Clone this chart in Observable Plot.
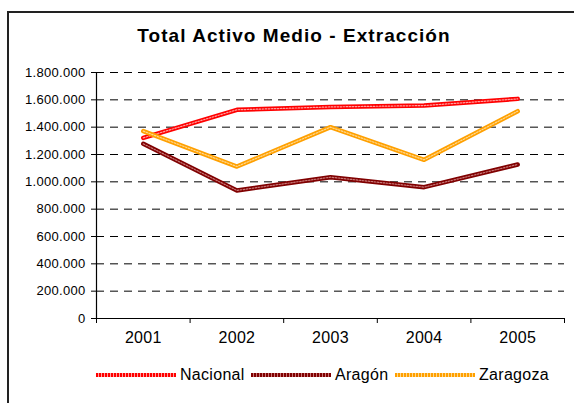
<!DOCTYPE html>
<html>
<head>
<meta charset="utf-8">
<script src="https://cdn.jsdelivr.net/npm/d3@7"></script>
<script src="https://cdn.jsdelivr.net/npm/@observablehq/plot@0.6"></script>
<style>
  html, body { margin: 0; padding: 0; background: #fff; width: 574px; height: 403px; overflow: hidden; }
  #wrap { position: relative; width: 574px; height: 403px; font-family: "Liberation Sans", Arial, sans-serif; }
  #frame { position: absolute; left: 7px; top: 11px; width: 620px; height: 500px; border: 2px solid #222; box-sizing: border-box; }
  #title { position: absolute; left: 0; width: 588px; top: 25px; text-align: center; font-weight: bold; font-size: 19px; letter-spacing: 1.05px; color: #000; }
  #chart { position: absolute; left: 0; top: 0; }
  #chart svg text { letter-spacing: 0.3px; }
  #legend { position: absolute; top: 365px; left: 0; height: 20px; font-size: 16px; color: #000; }
  .item { position: absolute; top: 0; display: flex; align-items: center; height: 20px; white-space: nowrap; letter-spacing: 0.3px; }
  .sw { width: 80px; height: 4px; margin-right: 4px; }
</style>
</head>
<body>
<div id="wrap">
  <div id="frame"></div>
  <div id="chart"></div>
  <div id="title">Total Activo Medio - Extracción</div>
  <div id="legend"></div>
</div>
<script>
const years = [2001, 2002, 2003, 2004, 2005];
const nacional = [1322000, 1527000, 1548000, 1558000, 1607000];
const aragon = [1278000, 937000, 1034000, 961000, 1127000];
const zaragoza = [1371000, 1112000, 1400000, 1161000, 1517000];
const seriesNames = ["Nacional", "Aragón", "Zaragoza"];
const seriesColors = ["#ff0000", "#800000", "#ffa000"];
const seriesLight = ["#ffa0a0", "#c87878", "#ffd890"];
const yTicks = [0, 200000, 400000, 600000, 800000, 1000000, 1200000, 1400000, 1600000, 1800000];
const legendLeft = [96, 251, 395];

const seriesValues = [nacional, aragon, zaragoza];
const data = [];
seriesNames.forEach((name, i) => {
  years.forEach((yr, j) => data.push({series: name, year: yr, value: seriesValues[i][j]}));
});

const loc = d3.formatLocale({decimal: ",", thousands: ".", grouping: [3], currency: ["", "€"]});
const fmt = loc.format(",d");
const boundaries = [years[0] - 0.5, ...years.map(y => y + 0.5)];

const marks = [
  Plot.gridY(yTicks.filter(v => v > 0), {stroke: "#000", strokeOpacity: 1, strokeDasharray: "8,6"}),
  Plot.ruleY([0], {stroke: "#000", strokeWidth: 1.2}),
  Plot.ruleX([boundaries[0]], {y1: 0, y2: yTicks[yTicks.length - 1], stroke: "#000", strokeWidth: 1.2}),
  Plot.axisY({ticks: yTicks, tickSize: 5, tickPadding: 6, tickFormat: fmt, label: null, fontSize: 13, fill: "#000"}),
  Plot.axisX({ticks: boundaries, tickSize: 5, tickFormat: () => "", label: null}),
  Plot.axisX({ticks: years, tickSize: 0, tickPadding: 13, tickFormat: d => String(d), label: null, fontSize: 16, fill: "#000"})
];
seriesNames.forEach((name, i) => {
  const d = data.filter(r => r.series === name);
  marks.push(Plot.line(d, {x: "year", y: "value", stroke: seriesColors[i], strokeWidth: 4.5}));
  marks.push(Plot.line(d, {x: "year", y: "value", stroke: seriesLight[i], strokeWidth: 1.2, strokeDasharray: "1.5,1.5"}));
});

const chart = Plot.plot({
  width: 574,
  height: 403,
  marginLeft: 96,
  marginRight: 10,
  marginTop: 72,
  marginBottom: 85,
  style: {fontFamily: "Liberation Sans, Arial, sans-serif", background: "transparent", overflow: "visible"},
  x: {type: "linear", domain: [boundaries[0], boundaries[boundaries.length - 1]]},
  y: {domain: [0, yTicks[yTicks.length - 1]]},
  marks
});
document.getElementById("chart").appendChild(chart);

const legend = document.getElementById("legend");
seriesNames.forEach((name, i) => {
  const item = document.createElement("div");
  item.className = "item";
  item.style.left = legendLeft[i] + "px";
  const sw = document.createElement("div");
  sw.className = "sw";
  sw.style.background = `repeating-linear-gradient(90deg, ${seriesColors[i]} 0 2px, ${seriesLight[i]} 2px 3px)`;
  const t = document.createElement("span");
  t.textContent = name;
  item.appendChild(sw);
  item.appendChild(t);
  legend.appendChild(item);
});
</script>
</body>
</html>
